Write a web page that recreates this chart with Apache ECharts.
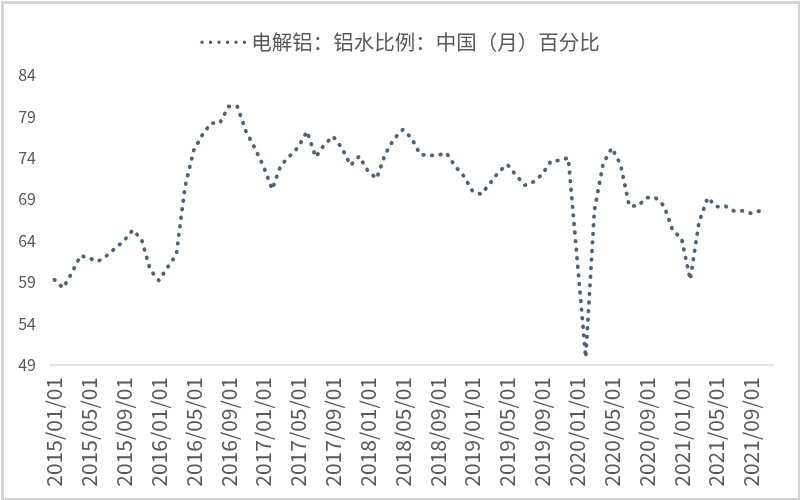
<!DOCTYPE html>
<html>
<head>
<meta charset="utf-8">
<script src="https://cdn.jsdelivr.net/npm/echarts@6/dist/echarts.min.js"></script>
<style>html,body{margin:0;padding:0;background:#fff}#c{width:800px;height:500px}</style>
</head>
<body>
<div id="c"></div>
<script>
// Monthly categories 2015/01 .. 2021/11
var categories = [];
for (var y = 2015; y <= 2021; y++) {
  for (var m = 1; m <= 12; m++) {
    if (y === 2021 && m > 11) break;
    categories.push(y + '/' + (m < 10 ? '0' + m : m) + '/01');
  }
}
var seriesName = '电解铝：铝水比例：中国（月）百分比';
var values = [
  59.3, 58.3, 60.1, 62.2, 61.9, 61.5, 62.2, 63.1, 64.0, 65.3, 64.2, 60.5,
  59.2, 60.8, 62.3, 70.5, 74.9, 76.8, 78.2, 78.2, 80.2, 80.2, 77.2, 75.2,
  73.0, 70.2, 73.1, 74.2, 75.3, 77.2, 74.1, 75.6, 76.6, 75.2, 73.1, 74.2,
  72.4, 71.5, 74.5, 76.3, 77.4, 76.4, 74.4, 74.3, 74.3, 74.6, 73.0, 71.8,
  70.0, 69.6, 70.9, 72.3, 73.2, 71.9, 70.7, 71.1, 72.0, 73.6, 73.7, 74.0,
  62.0, 49.9, 67.7, 73.3, 75.2, 73.2, 68.2, 68.2, 69.2, 69.2, 68.2, 65.2,
  64.3, 59.3, 66.2, 69.2, 68.1, 68.2, 67.6, 67.6, 67.3, 67.6, null
];
var yTicks = [49, 54, 59, 64, 69, 74, 79, 84];

var dotIcon = 'path://M0.25,2a1.75,1.75 0 1,0 3.5,0a1.75,1.75 0 1,0 -3.5,0' +
  'M8.75,2a1.75,1.75 0 1,0 3.5,0a1.75,1.75 0 1,0 -3.5,0' +
  'M17.25,2a1.75,1.75 0 1,0 3.5,0a1.75,1.75 0 1,0 -3.5,0' +
  'M25.75,2a1.75,1.75 0 1,0 3.5,0a1.75,1.75 0 1,0 -3.5,0' +
  'M34.25,2a1.75,1.75 0 1,0 3.5,0a1.75,1.75 0 1,0 -3.5,0' +
  'M42.75,2a1.75,1.75 0 1,0 3.5,0a1.75,1.75 0 1,0 -3.5,0';

var chart = echarts.init(document.getElementById('c'));
chart.setOption({
  animation: false,
  backgroundColor: '#fff',
  graphic: [{
    type: 'rect', left: 0, top: 0,
    shape: { x: 1.5, y: 1.5, width: 797, height: 497 },
    style: { fill: 'none', stroke: '#d4d4d4', lineWidth: 3 }
  }],
  legend: {
    top: 27, left: 'center',
    icon: dotIcon,
    itemWidth: 46, itemHeight: 3.5, itemGap: 4,
    textStyle: { color: '#595959', fontSize: 20.5, fontFamily: 'Noto Sans CJK SC' },
    data: [seriesName]
  },
  grid: { left: 50, right: 27, top: 75, bottom: 135, containLabel: false },
  xAxis: {
    type: 'category',
    data: categories,
    boundaryGap: true,
    axisLine: { lineStyle: { color: '#d9d9d9', width: 1.5 } },
    axisTick: { interval: 3, length: 6, lineStyle: { color: '#d9d9d9', width: 1.5 } },
    axisLabel: { interval: 3, rotate: 90, margin: 12, color: '#595959', fontSize: 21, fontFamily: 'Noto Sans CJK SC' },
    splitLine: { show: false }
  },
  yAxis: {
    type: 'value',
    min: yTicks[0], max: yTicks[yTicks.length - 1], interval: 5,
    axisLine: { show: false },
    axisTick: { show: false },
    splitLine: { show: false },
    axisLabel: { color: '#595959', fontSize: 16, margin: 14, fontFamily: 'Noto Sans CJK SC' }
  },
  series: [{
    name: seriesName,
    type: 'line',
    data: values,
    symbol: 'none',
    connectNulls: false,
    itemStyle: { color: '#4d6478' },
    lineStyle: { color: '#4d6478', width: 3.8, type: [0.6, 8], cap: 'round', join: 'round' }
  }]
});
</script>
</body>
</html>
